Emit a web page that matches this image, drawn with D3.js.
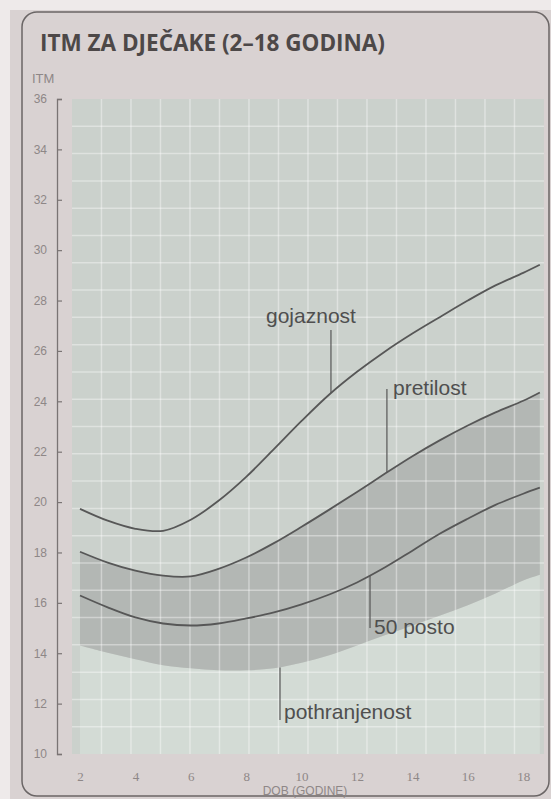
<!DOCTYPE html>
<html>
<head>
<meta charset="utf-8">
<script src="https://cdn.jsdelivr.net/npm/d3@7"></script>
<style>
  html, body { margin: 0; padding: 0; background: #eeeaea; }
  svg { display: block; }
</style>
</head>
<body>
<svg id="chart" width="551" height="799"></svg>
<script>
// ---- data ----
const ages = [2, 3, 4, 5, 6, 7, 8, 9, 10, 11, 12, 13, 14, 15, 16, 17, 18, 18.6];
const gojaznost    = [19.73, 19.26, 18.94, 18.86, 19.30, 20.05, 21.00, 22.10, 23.22, 24.27, 25.17, 25.97, 26.69, 27.35, 28.00, 28.60, 29.10, 29.42];
const pretilost    = [18.03, 17.60, 17.28, 17.08, 17.05, 17.35, 17.80, 18.37, 19.02, 19.70, 20.40, 21.12, 21.82, 22.46, 23.04, 23.56, 24.02, 24.35];
const posto50      = [16.29, 15.82, 15.42, 15.18, 15.10, 15.18, 15.38, 15.62, 15.94, 16.33, 16.81, 17.40, 18.07, 18.75, 19.34, 19.89, 20.33, 20.57];
const pothranjenost= [14.31, 14.02, 13.76, 13.52, 13.40, 13.32, 13.32, 13.40, 13.62, 13.92, 14.31, 14.71, 15.10, 15.50, 15.90, 16.37, 16.89, 17.12];
const yTicks = [10, 12, 14, 16, 18, 20, 22, 24, 26, 28, 30, 32, 34, 36];
const xTicks = [2, 4, 6, 8, 10, 12, 14, 16, 18];
const title = "ITM ZA DJEČAKE (2–18 GODINA)";
const yTitle = "ITM";
const xTitle = "DOB (GODINE)";
const labelDefs = [
  { text: "gojaznost", series: gojaznost, age: 11.06, leaderOther: 330, tx: 266, ty: 323 },
  { text: "pretilost", series: pretilost, age: 13.08, leaderOther: 389, tx: 393, ty: 395 },
  { text: "50 posto", series: posto50, age: 12.47, leaderOther: 628, tx: 374, ty: 634 },
  { text: "pothranjenost", series: pothranjenost, age: 9.22, leaderOther: 720, tx: 284, ty: 719 }
];

const svg = d3.select("#chart");

// page
svg.append("rect").attr("x", 10).attr("y", 10).attr("width", 541).attr("height", 789).attr("fill", "#d9d2d2");
svg.append("rect").attr("x", 22).attr("y", 12).attr("width", 527).attr("height", 784)
  .attr("rx", 15).attr("fill", "none").attr("stroke", "#6b6666").attr("stroke-width", 1.5);

const x = d3.scaleLinear().domain([2, 18]).range([80, 523.2]);
const y = d3.scaleLinear().domain([10, 36]).range([754, 99]);

const plotL = x(1.71), plotR = x(18.75), plotT = y(36), plotB = y(10);

svg.append("rect").attr("x", plotL).attr("y", plotT).attr("width", plotR - plotL).attr("height", plotB - plotT)
  .attr("fill", "#cbd1cc");

const rows = ages.map((a, i) => ({ a, g: gojaznost[i], p: pretilost[i], m: posto50[i], u: pothranjenost[i] }));
const curve = d3.curveCatmullRom.alpha(0.5);

svg.append("path").datum(rows)
  .attr("d", d3.area().curve(curve).x(d => x(d.a)).y0(plotB).y1(d => y(d.u)))
  .attr("fill", "#d3dbd5");

svg.append("path").datum(rows)
  .attr("d", d3.area().curve(curve).x(d => x(d.a)).y0(d => y(d.u)).y1(d => y(d.p)))
  .attr("fill", "#b3b7b4");

// grid
const gridCols = 16, gridRows = 24;
const gx = d3.scaleLinear().domain([0, gridCols]).range([plotL, plotR]);
const gy = d3.scaleLinear().domain([0, gridRows]).range([plotT, plotB]);
const grid = svg.append("g").attr("stroke", "rgba(255,255,255,0.38)").attr("stroke-width", 1.5);
d3.range(1, gridCols).forEach(i => grid.append("line").attr("x1", gx(i)).attr("x2", gx(i)).attr("y1", plotT).attr("y2", plotB));
d3.range(1, gridRows).forEach(i => grid.append("line").attr("y1", gy(i)).attr("y2", gy(i)).attr("x1", plotL).attr("x2", plotR));

const lineFor = key => d3.line().curve(curve).x(d => x(d.a)).y(d => y(d[key]));
["g", "p", "m"].forEach(k => {
  svg.append("path").datum(rows).attr("d", lineFor(k)(rows))
    .attr("fill", "none").attr("stroke", "#575757").attr("stroke-width", 1.8);
});

function yOnSeries(series, age) {
  const tmp = svg.append("path").attr("d", d3.line().curve(curve).x((d, i) => x(ages[i])).y(d => y(d))(series))
    .attr("fill", "none").attr("stroke", "none");
  const node = tmp.node();
  const total = node.getTotalLength();
  const tx = x(age);
  let lo = 0, hi = total;
  for (let k = 0; k < 40; k++) {
    const mid = (lo + hi) / 2;
    if (node.getPointAtLength(mid).x < tx) lo = mid; else hi = mid;
  }
  const py = node.getPointAtLength((lo + hi) / 2).y;
  tmp.remove();
  return py;
}

labelDefs.forEach(l => {
  const cy = yOnSeries(l.series, l.age);
  svg.append("line").attr("x1", x(l.age)).attr("x2", x(l.age)).attr("y1", cy).attr("y2", l.leaderOther)
    .attr("stroke", "#575757").attr("stroke-width", 1.2);
  svg.append("text").attr("x", l.tx).attr("y", l.ty).text(l.text)
    .attr("font-family", "Liberation Sans, Arial, sans-serif").attr("font-size", 21)
    .attr("fill", "#4f4f4f");
});

// y axis
const yAxis = d3.axisLeft(y).tickValues(yTicks).tickSizeInner(-5).tickSizeOuter(-5).tickPadding(10);
const ya = svg.append("g").attr("transform", "translate(57,0)").call(yAxis);
ya.select(".domain").attr("stroke", "#7a7474").attr("stroke-width", 1.3);
ya.selectAll(".tick line").attr("stroke", "#7a7474").attr("stroke-width", 1.2);
ya.selectAll(".tick text").attr("font-family", "Liberation Sans, Arial, sans-serif").attr("font-size", 12)
  .attr("fill", "#8e8787");

// x axis
const xAxis = d3.axisBottom(x).tickValues(xTicks).tickSize(0).tickPadding(10);
const xa = svg.append("g").attr("transform", "translate(0,762)").call(xAxis);
xa.select(".domain").remove();
xa.selectAll(".tick text").attr("font-family", "Liberation Serif, serif").attr("font-size", 13)
  .attr("fill", "#8e8787");

// titles
svg.append("text").attr("x", 40).attr("y", 51).text(title)
  .attr("font-family", "Open Sans, sans-serif").attr("font-weight", "bold").attr("font-size", 24)
  .attr("textLength", 345).attr("lengthAdjust", "spacingAndGlyphs")
  .attr("fill", "#4d4848");
svg.append("text").attr("x", 32).attr("y", 83).text(yTitle)
  .attr("font-family", "Liberation Sans, Arial, sans-serif").attr("font-size", 13).attr("fill", "#8e8787");
svg.append("text").attr("x", 305).attr("y", 795).attr("text-anchor", "middle").text(xTitle)
  .attr("font-family", "Liberation Sans, Arial, sans-serif").attr("font-size", 12).attr("fill", "#8e8787");
</script>
</body>
</html>
